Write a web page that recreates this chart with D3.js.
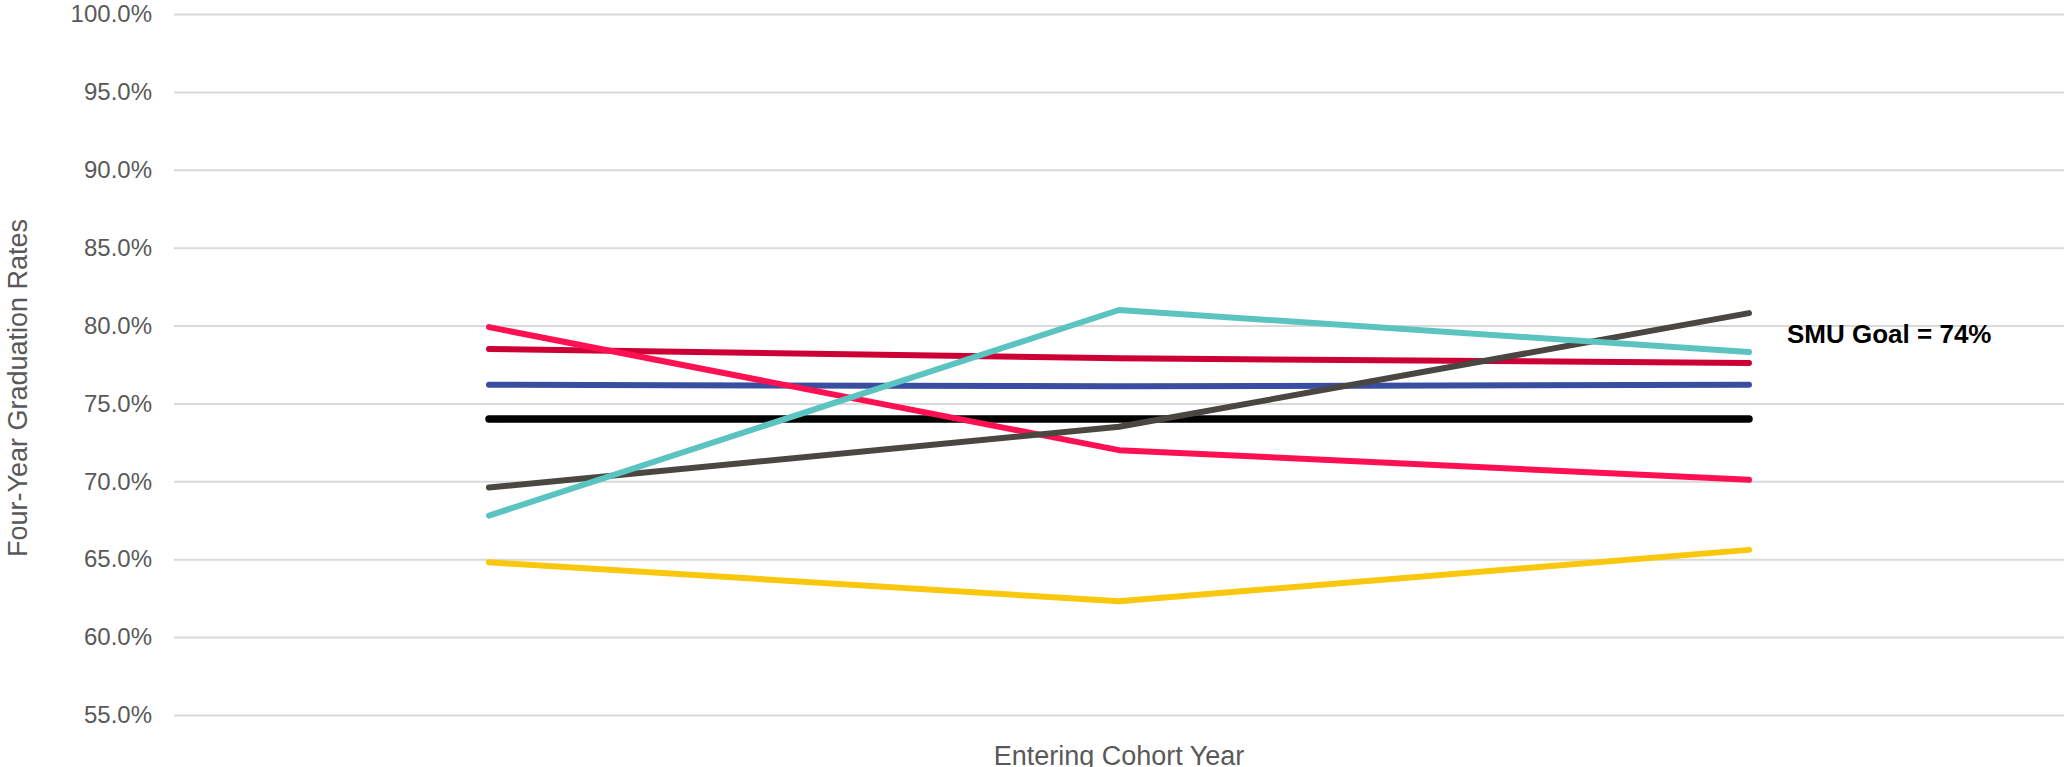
<!DOCTYPE html>
<html>
<head>
<meta charset="utf-8">
<script src="https://cdn.jsdelivr.net/npm/d3@7"></script>
<style>
  body { margin: 0; background: #fff; font-family: "Liberation Sans", Arial, sans-serif; }
</style>
</head>
<body>
<script>
// chart data
var cohorts = ["Cohort 1", "Cohort 2", "Cohort 3"];
var yTicks = [55, 60, 65, 70, 75, 80, 85, 90, 95, 100];
var seriesNames = ["Pink", "Crimson", "Blue", "Goal", "Dark", "Teal", "Yellow"];
var pinkValues = [79.9, 72.0, 70.1];
var crimsonValues = [78.5, 77.9, 77.6];
var blueValues = [76.2, 76.1, 76.2];
var goalValues = [74.0, 74.0, 74.0];
var darkValues = [69.6, 73.5, 80.8];
var tealValues = [67.8, 81.0, 78.3];
var yellowValues = [64.8, 62.3, 65.6];
var goalLabel = "SMU Goal = 74%";

var colors = {
  Pink: "#ff1053", Crimson: "#cc0035", Blue: "#3a4ea1", Goal: "#000000",
  Dark: "#4a4641", Teal: "#5bc4c1", Yellow: "#f9c80e"
};
var widths = { Goal: 7.5 };

var series = [
  {name: "Yellow", values: yellowValues},
  {name: "Blue", values: blueValues},
  {name: "Crimson", values: crimsonValues},
  {name: "Goal", values: goalValues},
  {name: "Pink", values: pinkValues},
  {name: "Dark", values: darkValues},
  {name: "Teal", values: tealValues}
];

var W = 2065, H = 767;
var margin = {top: 14, right: 1, bottom: 52, left: 174},
    width = W - margin.left - margin.right,
    height = H - margin.top - margin.bottom;

var svg = d3.select("body")
  .append("svg")
    .attr("width", W)
    .attr("height", H)
  .append("g")
    .attr("transform", "translate(" + margin.left + "," + margin.top + ")");

var x = d3.scalePoint()
  .domain(cohorts)
  .range([0, width])
  .padding(0.5);

var y = d3.scaleLinear()
  .domain([55, 100])
  .range([height, 0]);

// gridlines + tick labels
var yAxis = svg.append("g")
  .call(d3.axisLeft(y)
    .tickValues(yTicks)
    .tickSize(-width)
    .tickPadding(22)
    .tickFormat(function(d) { return d.toFixed(1) + "%"; }));
yAxis.select(".domain").remove();
yAxis.selectAll(".tick line")
  .attr("stroke", "#d9d9d9")
  .attr("stroke-width", 2);
yAxis.selectAll(".tick text")
  .attr("fill", "#595959")
  .style("font-size", "24px")
  .style("font-family", "Liberation Sans, Arial, sans-serif");

// lines
var line = d3.line()
  .x(function(d, i) { return x(cohorts[i]); })
  .y(function(d) { return y(d); });

svg.append("g")
  .selectAll("path")
  .data(series)
  .enter()
  .append("path")
    .attr("d", function(d) { return line(d.values); })
    .attr("fill", "none")
    .attr("stroke", function(d) { return colors[d.name]; })
    .attr("stroke-width", function(d) { return widths[d.name] || 6; })
    .attr("stroke-linecap", "round")
    .attr("stroke-linejoin", "round");

// goal label
svg.append("text")
  .attr("x", x(cohorts[2]) + 38)
  .attr("y", y(78.9))
  .style("font-size", "26px")
  .style("font-weight", "bold")
  .attr("fill", "#000")
  .text(goalLabel);

// axis titles
svg.append("text")
  .attr("x", width / 2)
  .attr("y", height + 50)
  .attr("text-anchor", "middle")
  .attr("fill", "#595959")
  .style("font-size", "27px")
  .text("Entering Cohort Year");

svg.append("text")
  .attr("transform", "rotate(-90)")
  .attr("x", -(388 - margin.top))
  .attr("y", -margin.left + 27)
  .attr("text-anchor", "middle")
  .attr("fill", "#595959")
  .style("font-size", "27px")
  .text("Four-Year Graduation Rates");
</script>
</body>
</html>
